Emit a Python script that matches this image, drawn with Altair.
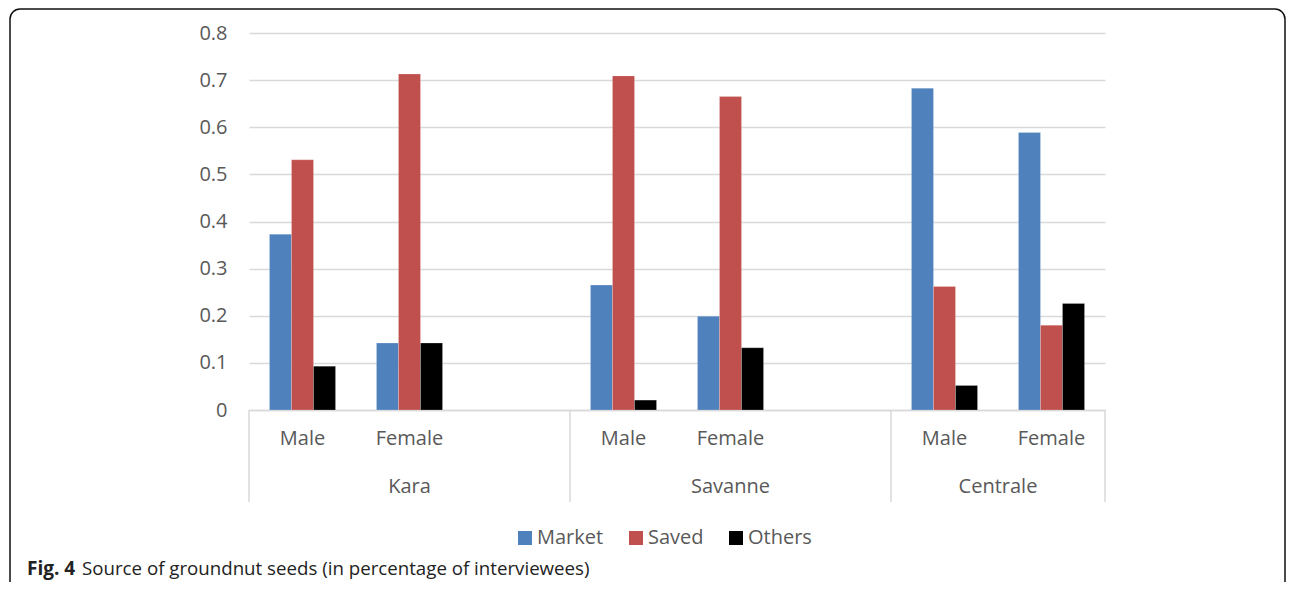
import altair as alt
import pandas as pd

regions = ["Kara", "Savanne", "Centrale"]
genders = ["Male", "Female"]
series = ["Market", "Saved", "Others"]
market = [0.373, 0.142, 0.265, 0.199, 0.683, 0.589]
saved = [0.531, 0.713, 0.709, 0.665, 0.262, 0.180]
others = [0.093, 0.142, 0.021, 0.132, 0.052, 0.226]
colors = ["#4F81BD", "#C0504D", "#000000"]

slot_domain = ["Kara|Male", "Kara|Female", "Kara|",
               "Savanne|Male", "Savanne|Female", "Savanne|",
               "Centrale|Male", "Centrale|Female"]

rows = []
i = 0
for r in regions:
    for g in genders:
        for s, vals in zip(series, [market, saved, others]):
            rows.append({"slot": f"{r}|{g}", "source": s, "value": vals[i]})
        i += 1
df = pd.DataFrame(rows)

W, H = 856, 377
FONT = "Open Sans"
GRAY = "#595959"

xscale = alt.Scale(domain=slot_domain, paddingInner=0, paddingOuter=0)

bars = alt.Chart(df).mark_bar(stroke="white", strokeWidth=0.5, strokeOpacity=0.4).encode(
    x=alt.X("slot:N", scale=xscale, sort=slot_domain,
            axis=alt.Axis(title=None, labelExpr="split(datum.value, '|')[1]",
                          labelAngle=0, ticks=False, domainColor="#D9D9D9",
                          domainWidth=1.5, labelFontSize=20, labelColor=GRAY,
                          labelFont=FONT, labelPadding=18)),
    xOffset=alt.XOffset("source:N", sort=series,
                        scale=alt.Scale(domain=series, paddingInner=0, paddingOuter=0.93)),
    y=alt.Y("value:Q", scale=alt.Scale(domain=[0, 0.8]),
            axis=alt.Axis(title=None, values=[0, 0.1, 0.2, 0.3, 0.4, 0.5, 0.6, 0.7, 0.8],
                          format="~g", domain=False, ticks=False, gridColor="#D9D9D9",
                          gridWidth=1.5, labelFontSize=20, labelColor=GRAY,
                          labelFont=FONT, labelPadding=22)),
    color=alt.Color("source:N", sort=series,
                    scale=alt.Scale(domain=series, range=colors),
                    legend=alt.Legend(title=None, orient="none", legendX=266, legendY=495,
                                      direction="horizontal", symbolType="square",
                                      symbolSize=196, symbolStrokeWidth=0,
                                      labelFontSize=20, labelColor=GRAY, labelFont=FONT,
                                      labelOffset=2, columnPadding=22)),
)

div_df = pd.DataFrame({"slot": ["Kara|Male", "Savanne|Male", "Centrale|Male"]})
dividers = alt.Chart(div_df).mark_rule(color="#D9D9D9", strokeWidth=1.5).encode(
    x=alt.X("slot:N", scale=xscale, bandPosition=0),
    y=alt.value(H), y2=alt.value(H + 92),
)
end_df = pd.DataFrame({"slot": ["Centrale|Female"]})
end_rule = alt.Chart(end_df).mark_rule(color="#D9D9D9", strokeWidth=1.5).encode(
    x=alt.X("slot:N", scale=xscale, bandPosition=1),
    y=alt.value(H), y2=alt.value(H + 92),
)

reg_df1 = pd.DataFrame({"slot": ["Kara|Female", "Savanne|Female"], "label": ["Kara", "Savanne"]})
reg_df2 = pd.DataFrame({"slot": ["Centrale|Female"], "label": ["Centrale"]})
reg1 = alt.Chart(reg_df1).mark_text(fontSize=20, color=GRAY, font=FONT, baseline="middle").encode(
    x=alt.X("slot:N", scale=xscale, bandPosition=0.5), y=alt.value(H + 77), text="label:N")
reg2 = alt.Chart(reg_df2).mark_text(fontSize=20, color=GRAY, font=FONT, baseline="middle").encode(
    x=alt.X("slot:N", scale=xscale, bandPosition=0), y=alt.value(H + 77), text="label:N")

one = pd.DataFrame({"a": [0]})
border = alt.Chart(one).mark_rect(fill=None, stroke="#111111", strokeWidth=1.5,
                                  cornerRadius=10).encode(
    x=alt.value(-239), x2=alt.value(1036), y=alt.value(-24), y2=alt.value(620))

cap_bold = alt.Chart(one).mark_text(text="Fig. 4", fontWeight="bold", fontSize=19, font=FONT,
                                    align="left", baseline="middle", color="#222222").encode(
    x=alt.value(-222), y=alt.value(536))
cap_text = alt.Chart(one).mark_text(
    text="Source of groundnut seeds (in percentage of interviewees)", fontSize=18.7, font=FONT,
    align="left", baseline="middle", color="#222222").encode(
    x=alt.value(-167), y=alt.value(536))

chart = alt.layer(bars, dividers, end_rule, reg1, reg2, border, cap_bold, cap_text).properties(
    width=W, height=H,
    autosize=alt.AutoSizeParams(type="none"),
    padding={"left": 241, "top": 25, "right": 181, "bottom": 172},
).configure_view(stroke=None)

chart.save("out.html", embed_options={"renderer": "svg", "actions": False})
